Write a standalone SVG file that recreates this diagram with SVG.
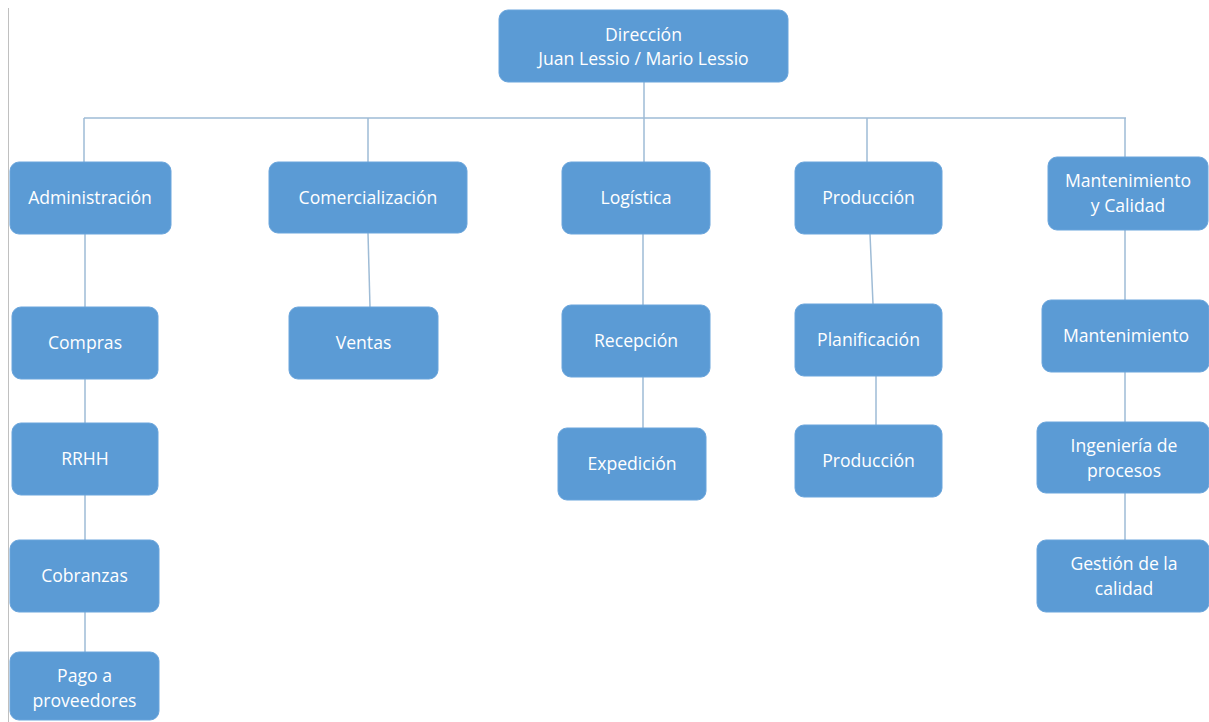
<svg xmlns="http://www.w3.org/2000/svg" width="1209" height="722" viewBox="0 0 1209 722">
<style>
.n{fill:#5b9bd5;stroke:#6aa5dc;stroke-width:1}
.t{fill:#ffffff;font-family:"Open Sans","Liberation Sans",sans-serif;font-size:17.6px;text-anchor:middle}
.c{stroke:#9fbcd6;stroke-width:1.5;fill:none}
</style>
<rect width="1209" height="722" fill="#ffffff"/>
<line x1="8.5" y1="8" x2="8.5" y2="722" stroke="#c0c0c0" stroke-width="1"/>
<g id="connectors">
<path class="c" d="M644 82V118M84 118H1126M84 118V162M368 118V162M644 118V162M867 118V162M1125 118V157"/>
<path class="c" d="M85 234V307M85 379V423M85 495V540M85 612V652"/>
<path class="c" d="M368 233L370 307"/>
<path class="c" d="M643 234V305M643 377V428"/>
<path class="c" d="M870 234L873 304M876 376V425"/>
<path class="c" d="M1125 230V300M1125 372V422M1125 493V540"/>
</g>
<g id="direccion"><rect class="n" x="499" y="10" width="289" height="72" rx="9"/><text class="t" x="643.5" y="41">Dirección</text><text class="t" x="643.5" y="65">Juan Lessio / Mario Lessio</text></g>
<g id="administracion"><rect class="n" x="10" y="162" width="161" height="72" rx="9"/><text class="t" x="90" y="204">Administración</text></g>
<g id="comercializacion"><rect class="n" x="269" y="162" width="198" height="71" rx="9"/><text class="t" x="368" y="204">Comercialización</text></g>
<g id="logistica"><rect class="n" x="562" y="162" width="148" height="72" rx="9"/><text class="t" x="636" y="204">Logística</text></g>
<g id="produccion"><rect class="n" x="795" y="162" width="147" height="72" rx="9"/><text class="t" x="868.5" y="204">Producción</text></g>
<g id="mantenimiento-calidad"><rect class="n" x="1048" y="157" width="160" height="73" rx="9"/><text class="t" x="1128" y="187">Mantenimiento</text><text class="t" x="1128" y="212">y Calidad</text></g>
<g id="compras"><rect class="n" x="12" y="307" width="146" height="72" rx="9"/><text class="t" x="85" y="349">Compras</text></g>
<g id="rrhh"><rect class="n" x="12" y="423" width="146" height="72" rx="9"/><text class="t" x="85" y="465">RRHH</text></g>
<g id="cobranzas"><rect class="n" x="10" y="540" width="149" height="72" rx="9"/><text class="t" x="84.5" y="582">Cobranzas</text></g>
<g id="pago-proveedores"><rect class="n" x="10" y="652" width="149" height="68" rx="9"/><text class="t" x="84.5" y="682">Pago a</text><text class="t" x="84.5" y="707">proveedores</text></g>
<g id="ventas"><rect class="n" x="289" y="307" width="149" height="72" rx="9"/><text class="t" x="363.5" y="349">Ventas</text></g>
<g id="recepcion"><rect class="n" x="562" y="305" width="148" height="72" rx="9"/><text class="t" x="636" y="347">Recepción</text></g>
<g id="expedicion"><rect class="n" x="558" y="428" width="148" height="72" rx="9"/><text class="t" x="632" y="470">Expedición</text></g>
<g id="planificacion"><rect class="n" x="795" y="304" width="147" height="72" rx="9"/><text class="t" x="868.5" y="346">Planificación</text></g>
<g id="produccion-2"><rect class="n" x="795" y="425" width="147" height="72" rx="9"/><text class="t" x="868.5" y="467">Producción</text></g>
<g id="mantenimiento"><rect class="n" x="1042" y="300" width="167" height="72" rx="9"/><text class="t" x="1126" y="342">Mantenimiento</text></g>
<g id="ingenieria"><rect class="n" x="1037" y="422" width="172" height="71" rx="9"/><text class="t" x="1124" y="452">Ingeniería de</text><text class="t" x="1124" y="477">procesos</text></g>
<g id="gestion"><rect class="n" x="1037" y="540" width="172" height="72" rx="9"/><text class="t" x="1124" y="570">Gestión de la</text><text class="t" x="1124" y="595">calidad</text></g>
</svg>
